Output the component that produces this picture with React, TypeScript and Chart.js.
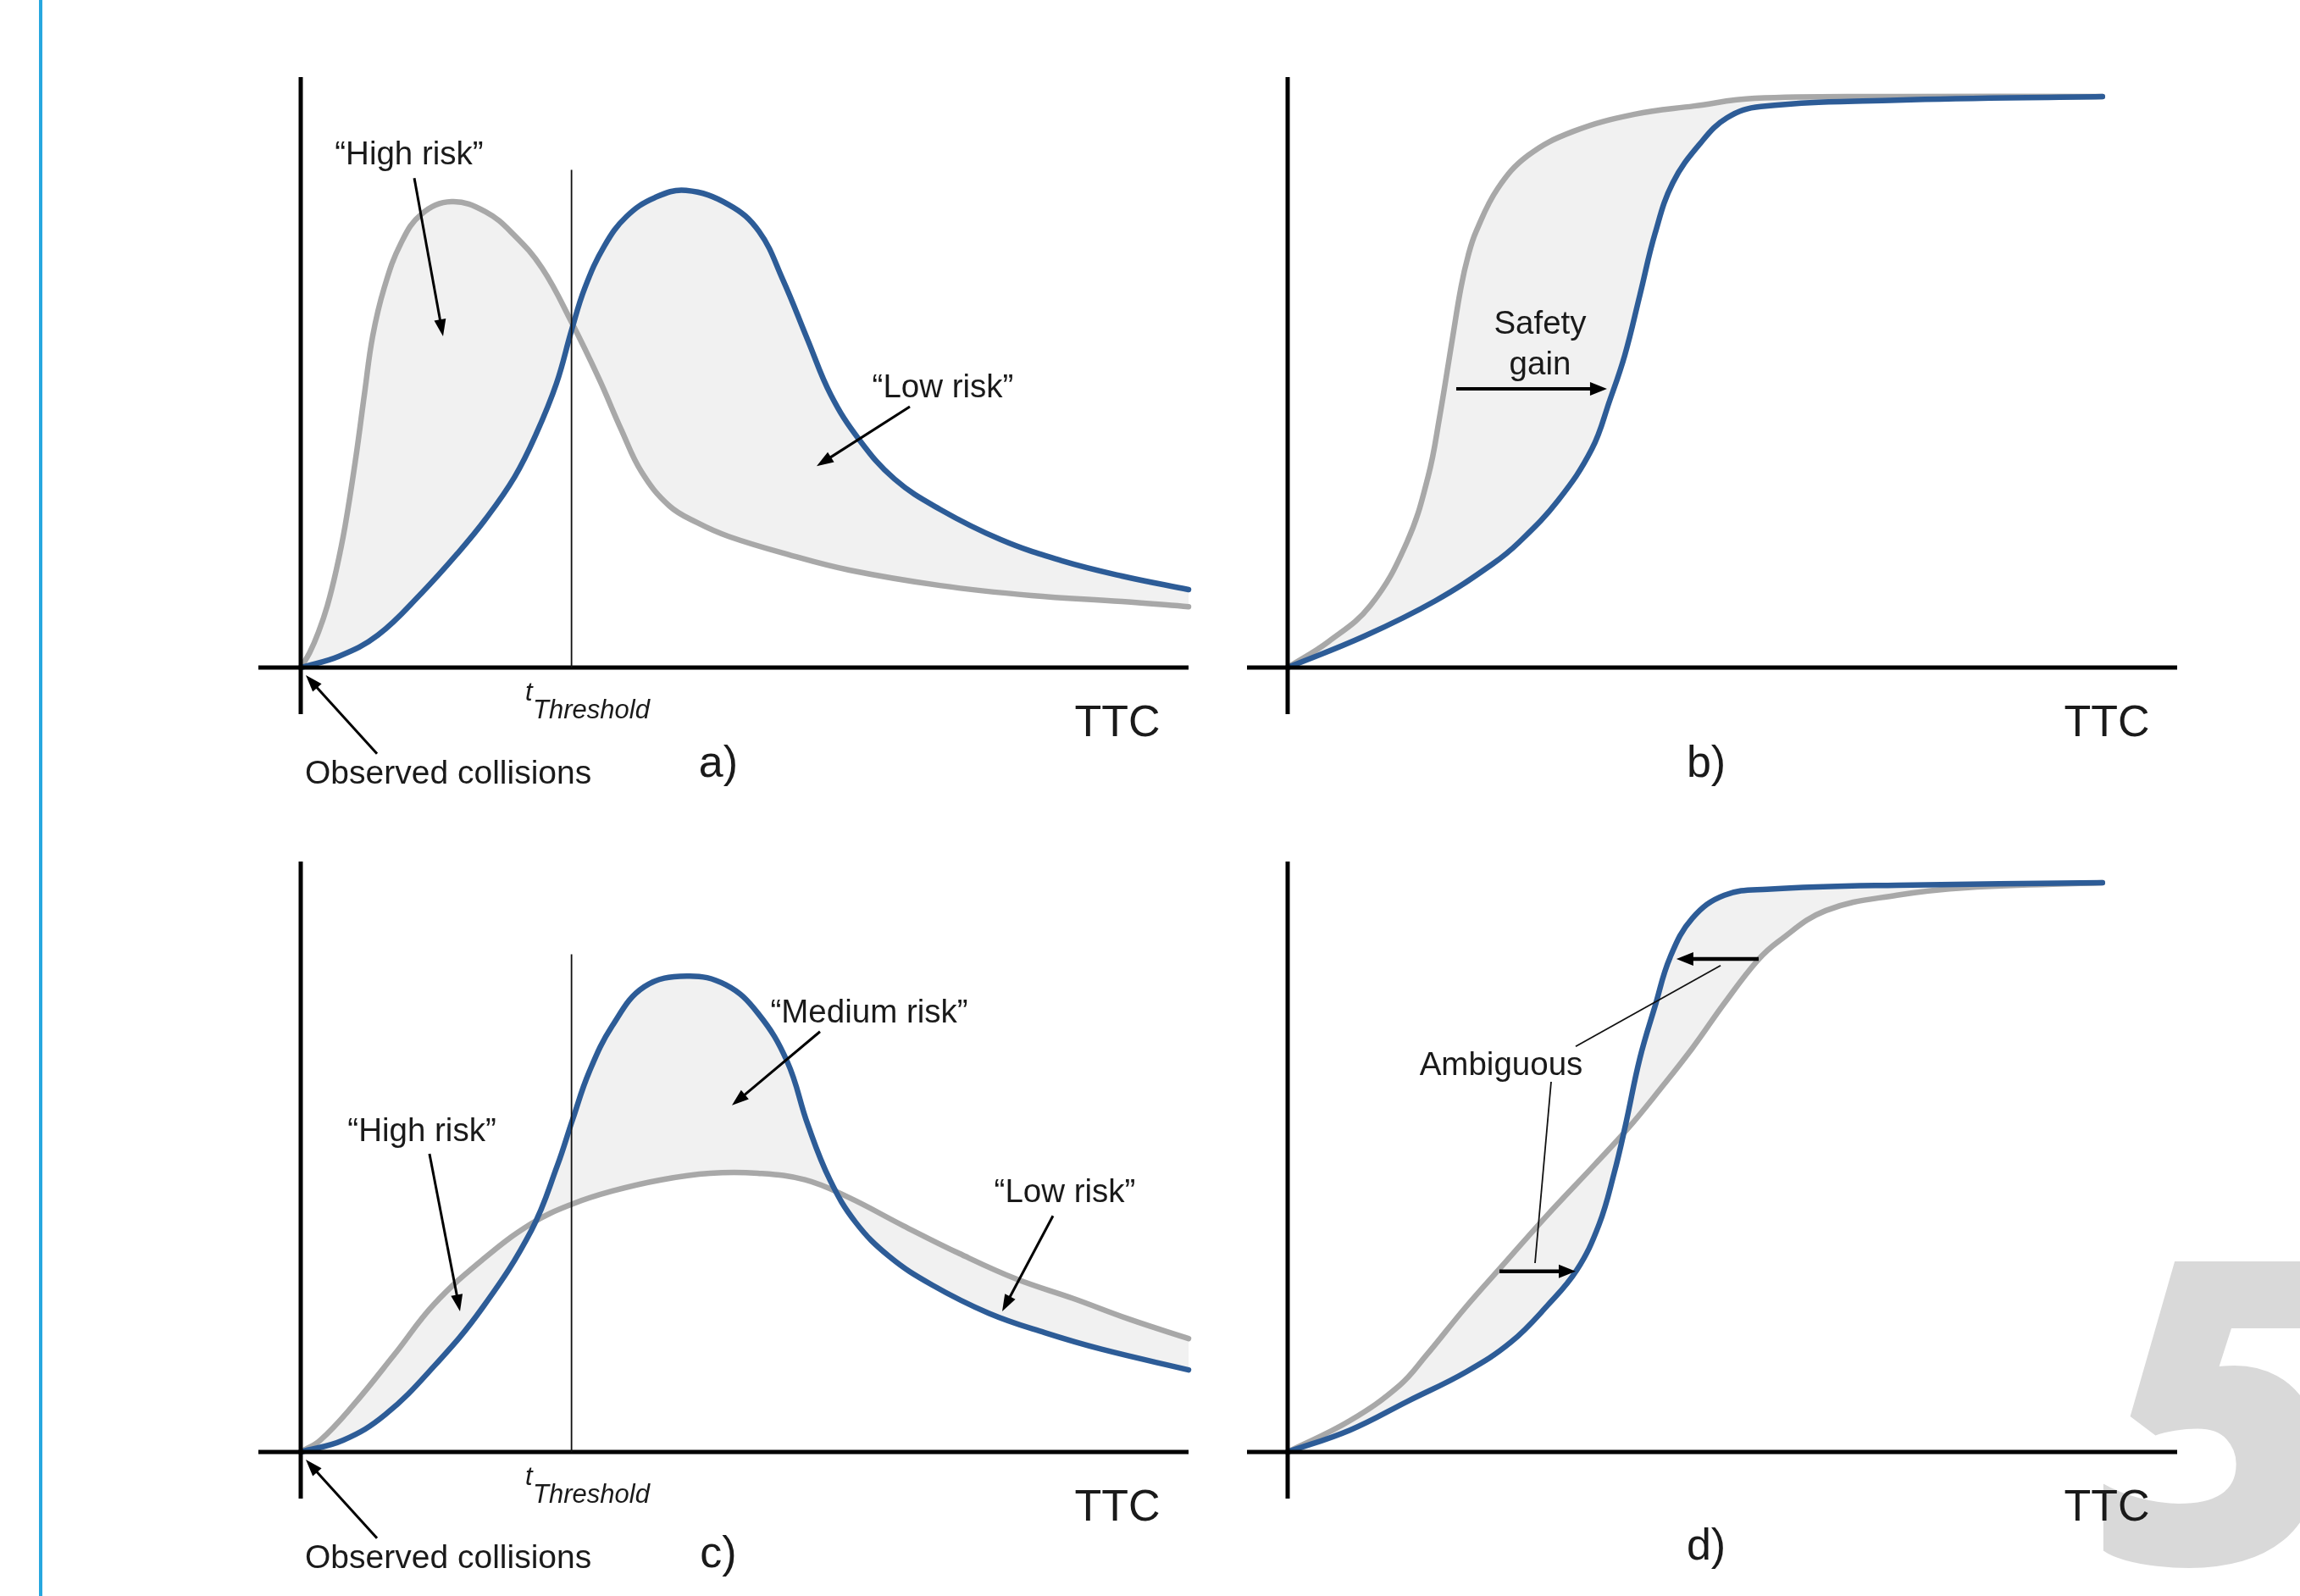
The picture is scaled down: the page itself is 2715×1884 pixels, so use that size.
import React, { useEffect, useRef } from "react";
import { Chart, registerables } from "chart.js";

Chart.register(...registerables);

const PAGE_W = 2715;
const PAGE_H = 1884;

// ---------- DATA (x = TTC in arbitrary units 0..10, y = relative value 0..100) ----------
// Panel a) – density curves
const aGrayTTC = [0, 0.1, 0.2, 0.3, 0.4, 0.5, 0.62, 0.72, 0.81, 0.94, 1.13, 1.36, 1.7, 2.08, 2.4, 2.72, 3.05, 3.36, 3.61, 3.84, 4.15, 4.47, 4.82, 5.5, 6.18, 7.2, 8.23, 9.25, 10];
const aGrayVal = [0, 2.5, 6.0, 10.5, 16.5, 24.0, 35.5, 46.6, 56.1, 64.3, 71.9, 76.8, 78.9, 77.2, 73.3, 67.6, 58.5, 48.9, 40.3, 33.1, 27.4, 24.5, 22.2, 19.1, 16.5, 13.9, 12.2, 11.2, 10.3];
const aBlueTTC = [0, 0.43, 0.87, 1.36, 1.77, 2.08, 2.41, 2.65, 2.88, 3.05, 3.2, 3.42, 3.67, 3.99, 4.34, 4.82, 5.16, 5.43, 5.71, 5.97, 6.29, 6.69, 7.2, 7.88, 8.57, 9.25, 10];
const aBlueVal = [0, 1.9, 5.5, 12.6, 19.4, 25.1, 32.3, 39.5, 48.1, 57.1, 64.3, 71.4, 76.4, 79.6, 80.8, 78.4, 73.9, 65.7, 55.5, 46.2, 38.6, 31.9, 26.8, 21.7, 18.1, 15.5, 13.2];

// Panel b) – cumulative curves
const bGrayTTC = [0, 0.46, 0.93, 1.34, 1.58, 1.71, 1.85, 1.95, 2.03, 2.12, 2.36, 2.7, 3.21, 3.9, 4.57, 5.25, 6.85, 9.16];
const bGrayVal = [0, 4.4, 10.5, 21.2, 32.4, 42.6, 55.5, 64.5, 69.8, 73.9, 81.1, 86.7, 90.8, 93.7, 95.1, 96.4, 96.7, 96.7];
const bBlueTTC = [0, 0.86, 1.66, 2.3, 2.6, 3.04, 3.42, 3.62, 3.79, 3.96, 4.13, 4.33, 4.64, 4.94, 5.32, 6.85, 9.16];
const bBlueVal = [0, 5.3, 11.3, 17.5, 21.2, 28.3, 37.0, 45.2, 52.9, 63.1, 73.5, 82.1, 88.8, 93.1, 95.0, 96.1, 96.7];

// Panel c) – density curves
const cGrayTTC = [0, 0.22, 0.59, 1.06, 1.5, 2.05, 2.6, 3.06, 3.51, 4.06, 4.61, 5.15, 5.68, 6.16, 6.79, 7.42, 8.06, 8.7, 9.33, 10];
const cGrayVal = [0, 2.0, 7.9, 16.6, 25.0, 32.6, 38.7, 42.0, 44.2, 46.1, 47.2, 47.2, 46.1, 43.2, 38.3, 33.6, 29.3, 26.0, 22.5, 19.2];
const cBlueTTC = [0, 0.48, 0.95, 1.5, 2.05, 2.6, 2.89, 3.06, 3.25, 3.51, 3.87, 4.35, 4.79, 5.15, 5.48, 5.71, 5.96, 6.25, 6.63, 7.11, 7.75, 8.38, 9.02, 10];
const cBlueVal = [0, 2.0, 6.3, 14.5, 24.5, 37.6, 48.5, 56.2, 64.4, 72.2, 78.8, 80.6, 79.1, 74.3, 66.1, 55.5, 46.1, 38.9, 33.1, 28.3, 23.5, 20.2, 17.4, 13.9];

// Panel d) – cumulative curves
const dGrayTTC = [0, 0.7, 1.26, 1.56, 2.0, 2.44, 2.9, 3.46, 3.82, 4.18, 4.55, 4.91, 5.28, 5.52, 6.05, 6.85, 7.65, 9.16];
const dGrayVal = [0, 5.3, 11.3, 16.4, 24.5, 32.0, 39.8, 48.8, 54.7, 61.3, 68.4, 76.0, 83.2, 86.5, 91.7, 94.3, 95.6, 96.4];
const dBlueTTC = [0, 0.7, 1.35, 2.01, 2.51, 2.92, 3.25, 3.5, 3.67, 3.8, 3.96, 4.13, 4.3, 4.55, 4.91, 5.39, 6.85, 9.16];
const dBlueVal = [0, 3.7, 8.6, 13.6, 18.6, 24.8, 30.8, 38.5, 47.2, 55.5, 66.7, 75.5, 83.8, 90.4, 94.3, 95.3, 96.0, 96.4];

const THRESHOLD_TTC = 3.05;

// ---------- STYLE ----------
const BLUE = "#2d5c97";
const GRAY = "#a8a8a8";
const FILL = "#f1f1f1";
const INK = "#1a1a1a";
const FONT = '"Liberation Sans", Arial, Helvetica, sans-serif';

type Ann =
  | { t: "text"; s: string; x: number; y: number; size: number; align?: CanvasTextAlign; base?: CanvasTextBaseline; italic?: boolean }
  | { t: "arrow"; x1: number; y1: number; x2: number; y2: number; w: number; hl: number; hw: number }
  | { t: "line"; x1: number; y1: number; x2: number; y2: number; w: number };

type PanelDef = {
  area: { left: number; top: number; right: number; bottom: number };
  gray: [number[], number[]];
  blue: [number[], number[]];
  xAxisStart: number;
  ann: Ann[];
  page?: "blueRule" | "five";
};

const densityCommon = (label: string): Ann[] => [
  { t: "line", x1: THRESHOLD_TTC, y1: 0, x2: THRESHOLD_TTC, y2: 84.3, w: 1.8 },
  { t: "text", s: "t", x: 2.529, y: -5.6, size: 31, align: "left", base: "alphabetic", italic: true },
  { t: "text", s: "Threshold", x: 2.615, y: -8.6, size: 31, align: "left", base: "alphabetic", italic: true },
  { t: "text", s: "Observed collisions", x: 0.048, y: -18.1, size: 39, align: "left" },
  { t: "arrow", x1: 0.859, y1: -14.6, x2: 0.057, y2: -1.3, w: 3, hl: 20, hw: 14 },
  { t: "text", s: "TTC", x: 9.198, y: -9.6, size: 52 },
  { t: "text", s: label, x: 4.704, y: label === "a)" ? -16.4 : -17.5, size: 52 },
];

const PANELS: PanelDef[] = [
  {
    area: { left: 355, top: 91, right: 1403, bottom: 788 },
    gray: [aGrayTTC, aGrayVal],
    blue: [aBlueTTC, aBlueVal],
    xAxisStart: -0.477,
    page: "blueRule",
    ann: [
      ...densityCommon("a)"),
      { t: "text", s: "\u201CHigh risk\u201D", x: 1.221, y: 86.8, size: 38.5 },
      { t: "arrow", x1: 1.279, y1: 82.9, x2: 1.603, y2: 56.1, w: 3, hl: 20, hw: 14 },
      { t: "text", s: "\u201CLow risk\u201D", x: 7.233, y: 47.3, size: 38.5 },
      { t: "arrow", x1: 6.861, y1: 44.2, x2: 5.811, y2: 34.1, w: 3, hl: 20, hw: 14 },
    ],
  },
  {
    area: { left: 1520, top: 91, right: 2570, bottom: 788 },
    gray: [bGrayTTC, bGrayVal],
    blue: [bBlueTTC, bBlueVal],
    xAxisStart: -0.457,
    ann: [
      { t: "text", s: "Safety", x: 2.838, y: 58.0, size: 38.5 },
      { t: "text", s: "gain", x: 2.838, y: 51.1, size: 38.5 },
      { t: "arrow", x1: 1.895, y1: 47.2, x2: 3.59, y2: 47.2, w: 4, hl: 20, hw: 16 },
      { t: "text", s: "TTC", x: 9.21, y: -9.6, size: 52 },
      { t: "text", s: "b)", x: 4.705, y: -16.4, size: 52 },
    ],
  },
  {
    area: { left: 355, top: 1017, right: 1403, bottom: 1714 },
    gray: [cGrayTTC, cGrayVal],
    blue: [cBlueTTC, cBlueVal],
    xAxisStart: -0.477,
    ann: [
      ...densityCommon("c)"),
      { t: "text", s: "\u201CHigh risk\u201D", x: 1.365, y: 54.2, size: 38.5 },
      { t: "arrow", x1: 1.45, y1: 50.5, x2: 1.794, y2: 23.8, w: 3, hl: 20, hw: 14 },
      { t: "text", s: "\u201CMedium risk\u201D", x: 6.403, y: 74.3, size: 38.5 },
      { t: "arrow", x1: 5.849, y1: 71.2, x2: 4.857, y2: 58.7, w: 3, hl: 20, hw: 14 },
      { t: "text", s: "\u201CLow risk\u201D", x: 8.607, y: 43.8, size: 38.5 },
      { t: "arrow", x1: 8.473, y1: 40.0, x2: 7.901, y2: 23.8, w: 3, hl: 20, hw: 14 },
    ],
  },
  {
    area: { left: 1520, top: 1017, right: 2570, bottom: 1714 },
    gray: [dGrayTTC, dGrayVal],
    blue: [dBlueTTC, dBlueVal],
    xAxisStart: -0.457,
    page: "five",
    ann: [
      { t: "text", s: "Ambiguous", x: 2.4, y: 65.4, size: 38.5 },
      { t: "arrow", x1: 5.295, y1: 83.5, x2: 4.37, y2: 83.5, w: 4.5, hl: 20, hw: 16 },
      { t: "arrow", x1: 2.381, y1: 30.6, x2: 3.238, y2: 30.6, w: 4.5, hl: 20, hw: 16 },
      { t: "line", x1: 3.238, y1: 68.7, x2: 4.867, y2: 82.4, w: 1.8 },
      { t: "line", x1: 2.962, y1: 62.7, x2: 2.781, y2: 32.0, w: 1.8 },
      { t: "text", s: "TTC", x: 9.21, y: -9.6, size: 52 },
      { t: "text", s: "d)", x: 4.705, y: -16.2, size: 52 },
    ],
  },
];

function drawArrow(ctx: CanvasRenderingContext2D, x1: number, y1: number, x2: number, y2: number, w: number, hl: number, hw: number) {
  const ang = Math.atan2(y2 - y1, x2 - x1);
  const bx = x2 - Math.cos(ang) * hl;
  const by = y2 - Math.sin(ang) * hl;
  ctx.save();
  ctx.strokeStyle = "#000";
  ctx.fillStyle = "#000";
  ctx.lineWidth = w;
  ctx.beginPath();
  ctx.moveTo(x1, y1);
  ctx.lineTo(bx + Math.cos(ang) * 2, by + Math.sin(ang) * 2);
  ctx.stroke();
  ctx.beginPath();
  ctx.moveTo(x2, y2);
  ctx.lineTo(bx + Math.sin(ang) * hw / 2, by - Math.cos(ang) * hw / 2);
  ctx.lineTo(bx - Math.sin(ang) * hw / 2, by + Math.cos(ang) * hw / 2);
  ctx.closePath();
  ctx.fill();
  ctx.restore();
}

function makePlugin(p: PanelDef) {
  return {
    id: "panelDecor",
    beforeDraw(chart: any) {
      const ctx: CanvasRenderingContext2D = chart.ctx;
      ctx.save();
      if (p.page === "blueRule") {
        ctx.fillStyle = "#27a7df";
        ctx.fillRect(46, 0, 4, PAGE_H);
      }
      if (p.page === "five") {
        ctx.fillStyle = "#d9d9d9";
        ctx.font = 'italic 800 500px "Open Sans", sans-serif';
        ctx.textAlign = "left";
        ctx.textBaseline = "alphabetic";
        ctx.fillText("5", 2478, 1846);
      }
      ctx.restore();
    },
    afterDatasetsDraw(chart: any) {
      const ctx: CanvasRenderingContext2D = chart.ctx;
      const sx = (v: number) => chart.scales.x.getPixelForValue(v);
      const sy = (v: number) => chart.scales.y.getPixelForValue(v);
      ctx.save();
      // axes
      ctx.strokeStyle = "#000";
      ctx.lineWidth = 5;
      ctx.lineCap = "butt";
      ctx.beginPath();
      ctx.moveTo(sx(p.xAxisStart), sy(0));
      ctx.lineTo(sx(10), sy(0));
      ctx.moveTo(sx(0), sy(100));
      ctx.lineTo(sx(0), sy(-7.9));
      ctx.stroke();
      for (const a of p.ann) {
        if (a.t === "line") {
          ctx.lineWidth = a.w;
          ctx.strokeStyle = "#111";
          ctx.beginPath();
          ctx.moveTo(sx(a.x1), sy(a.y1));
          ctx.lineTo(sx(a.x2), sy(a.y2));
          ctx.stroke();
        } else if (a.t === "arrow") {
          drawArrow(ctx, sx(a.x1), sy(a.y1), sx(a.x2), sy(a.y2), a.w, a.hl, a.hw);
        } else {
          ctx.fillStyle = INK;
          ctx.font = `${a.italic ? "italic " : ""}${a.size}px ${FONT}`;
          ctx.textAlign = a.align || "center";
          ctx.textBaseline = a.base || "middle";
          ctx.fillText(a.s, sx(a.x), sy(a.y));
        }
      }
      ctx.restore();
    },
  };
}

function buildConfig(p: PanelDef): any {
  const toPts = (xs: number[], ys: number[]) => xs.map((x, i) => ({ x, y: ys[i] }));
  const lineStyle = {
    borderWidth: 6.5,
    tension: 0.4,
    pointRadius: 0,
    borderCapStyle: "round",
    borderJoinStyle: "round",
    clip: false,
  };
  return {
    type: "line",
    data: {
      datasets: [
        {
          label: "after",
          data: toPts(p.blue[0], p.blue[1]),
          borderColor: BLUE,
          backgroundColor: FILL,
          fill: "+1",
          ...lineStyle,
        },
        {
          label: "before",
          data: toPts(p.gray[0], p.gray[1]),
          borderColor: GRAY,
          fill: false,
          ...lineStyle,
        },
      ],
    },
    options: {
      animation: false,
      responsive: false,
      devicePixelRatio: 1,
      events: [],
      layout: {
        padding: {
          left: p.area.left,
          top: p.area.top,
          right: PAGE_W - p.area.right,
          bottom: PAGE_H - p.area.bottom,
        },
      },
      scales: {
        x: { type: "linear", min: 0, max: 10, display: false },
        y: { type: "linear", min: 0, max: 100, display: false },
      },
      plugins: {
        legend: { display: false },
        tooltip: { enabled: false },
        filler: { drawTime: "beforeDatasetsDraw", propagate: false },
      },
    },
    plugins: [makePlugin(p)],
  };
}

export default function App() {
  const refs = [useRef<HTMLCanvasElement>(null), useRef<HTMLCanvasElement>(null), useRef<HTMLCanvasElement>(null), useRef<HTMLCanvasElement>(null)];
  useEffect(() => {
    const charts = PANELS.map((p, i) => new Chart(refs[i].current as HTMLCanvasElement, buildConfig(p)));
    return () => charts.forEach((c) => c.destroy());
  }, []);
  return (
    <div style={{ position: "absolute", left: 0, top: 0, width: PAGE_W, height: PAGE_H, background: "#fff", overflow: "hidden" }}>
      {PANELS.map((_, i) => (
        <canvas
          key={i}
          ref={refs[i]}
          width={PAGE_W}
          height={PAGE_H}
          style={{ position: "absolute", left: 0, top: 0, width: PAGE_W, height: PAGE_H }}
        />
      ))}
    </div>
  );
}
